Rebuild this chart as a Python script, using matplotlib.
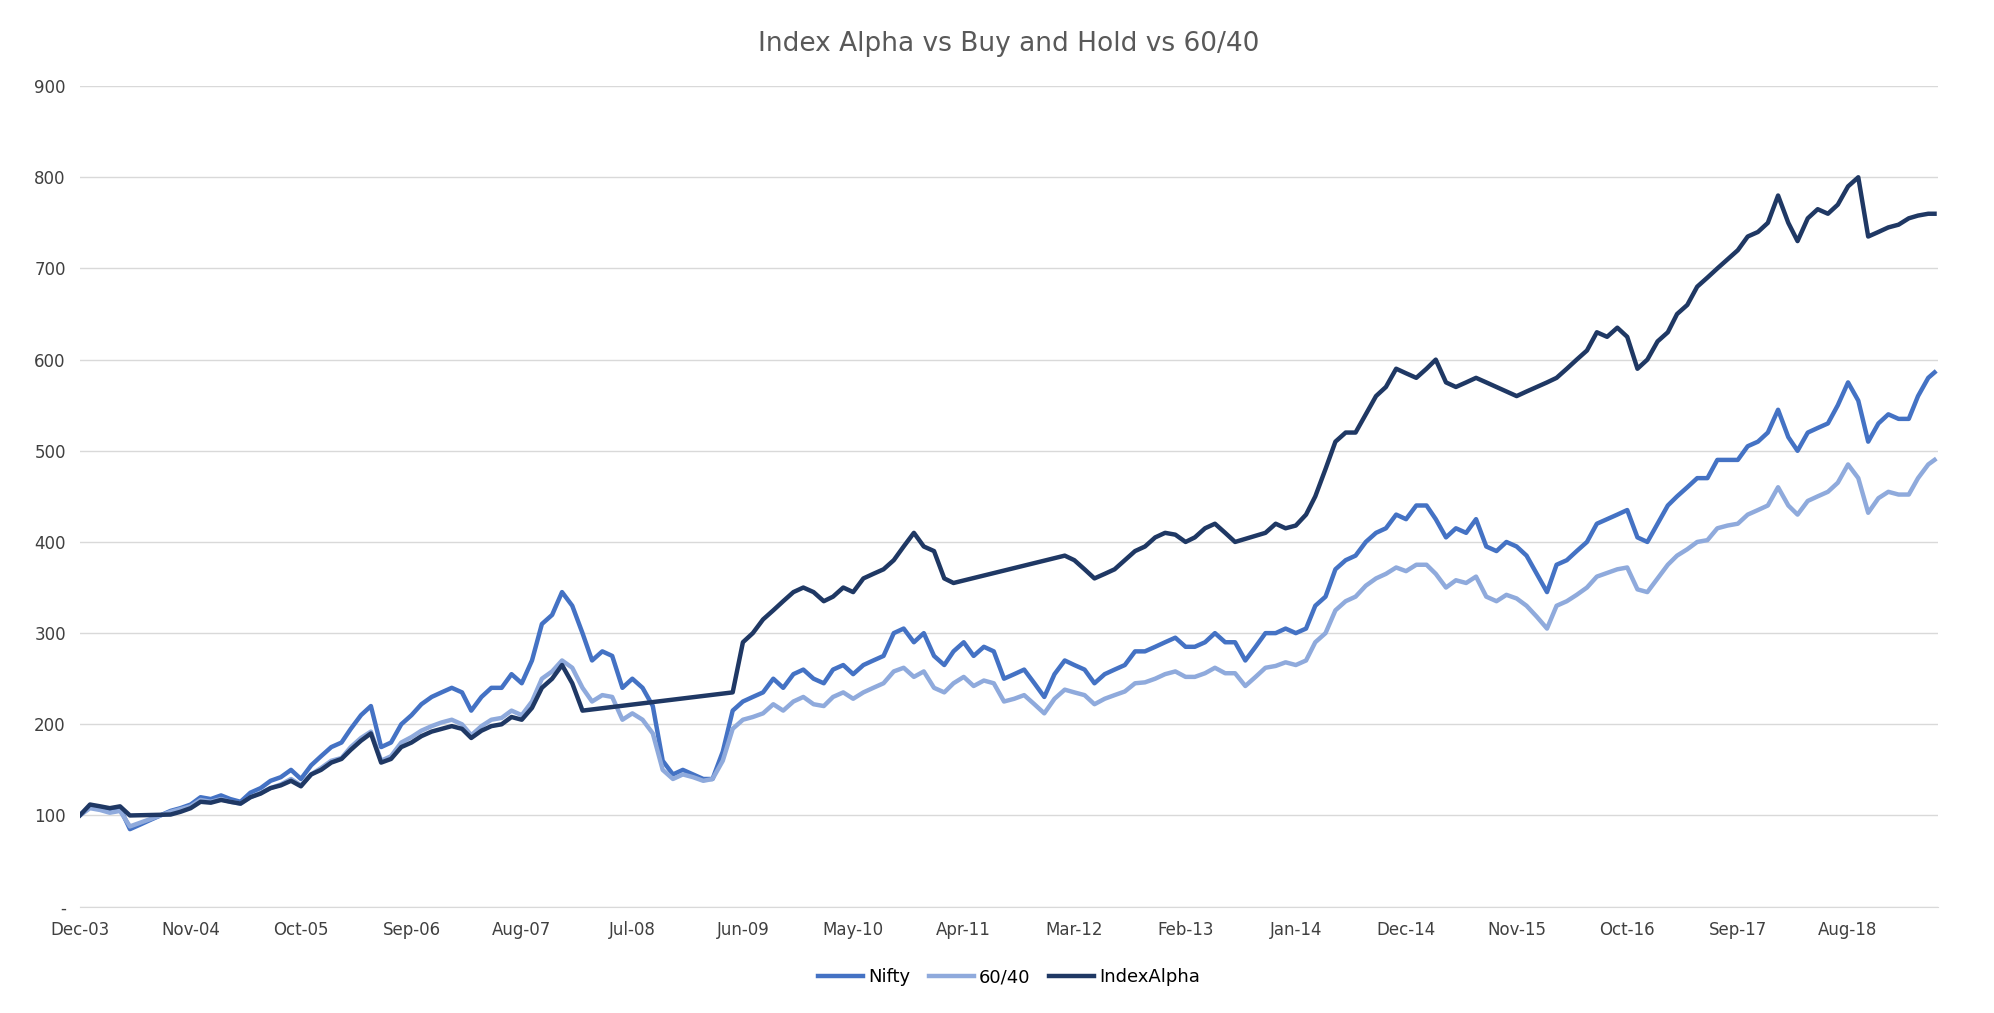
import matplotlib
matplotlib.use("Agg")
import matplotlib.pyplot as plt
import pandas as pd

start = pd.Timestamp("2003-12-01")
nifty = [100,110,108,105,108,85,90,95,100,105,108,112,120,118,122,118,115,125,130,138,142,150,140,155,165,175,180,195,210,220,175,180,200,210,222,230,235,240,235,215,230,240,240,255,245,270,310,320,345,330,300,270,280,275,240,250,240,220,160,145,150,145,140,140,170,215,225,230,235,250,240,255,260,250,245,260,265,255,265,270,275,300,305,290,300,275,265,280,290,275,285,280,250,255,260,245,230,255,270,265,260,245,255,260,265,280,280,285,290,295,285,285,290,300,290,290,270,285,300,300,305,300,305,330,340,370,380,385,400,410,415,430,425,440,440,425,405,415,410,425,395,390,400,395,385,365,345,375,380,390,400,420,425,430,435,405,400,420,440,450,460,470,470,490,490,490,505,510,520,545,515,500,520,525,530,550,575,555,510,530,540,535,535,560,580,586]
sixty40 = [100,108,106,103,105,88,92,96,100,104,107,110,117,115,118,115,113,120,125,130,134,140,133,145,152,160,163,175,185,192,160,165,180,186,193,198,202,205,200,188,198,205,207,215,210,225,250,258,270,262,240,225,232,230,205,212,205,190,150,140,145,142,138,140,160,195,205,208,212,222,215,225,230,222,220,230,235,228,235,240,245,258,262,252,258,240,235,245,252,242,248,245,225,228,232,222,212,228,238,235,232,222,228,232,236,245,246,250,255,258,252,252,256,262,256,256,242,252,262,264,268,265,270,290,300,325,335,340,352,360,365,372,368,375,375,365,350,358,355,362,340,335,342,338,330,318,305,330,335,342,350,362,366,370,372,348,345,360,375,385,392,400,402,415,418,420,430,435,440,460,440,430,445,450,455,465,485,470,432,448,455,452,452,470,485,490]
alpha_dates = ["2003-12","2004-01","2004-02","2004-03","2004-04","2004-05","2004-09","2004-10","2004-11","2004-12","2005-01","2005-02","2005-03","2005-04","2005-05","2005-06","2005-07","2005-08","2005-09","2005-10","2005-11","2005-12","2006-01","2006-02","2006-03","2006-04","2006-05","2006-06","2006-07","2006-08","2006-09","2006-10","2006-11","2006-12","2007-01","2007-02","2007-03","2007-04","2007-05","2007-06","2007-07","2007-08","2007-09","2007-10","2007-11","2007-12","2008-01","2008-02","2009-05","2009-06","2009-07","2009-08","2009-09","2009-10","2009-11","2009-12","2010-01","2010-02","2010-03","2010-04","2010-05","2010-06","2010-07","2010-08","2010-09","2010-10","2010-11","2010-12","2011-01","2011-02","2011-03","2012-02","2012-03","2012-04","2012-05","2012-06","2012-07","2012-08","2012-09","2012-10","2012-11","2012-12","2013-01","2013-02","2013-03","2013-04","2013-05","2013-06","2013-07","2013-10","2013-11","2013-12","2014-01","2014-02","2014-03","2014-04","2014-05","2014-06","2014-07","2014-08","2014-09","2014-10","2014-11","2014-12","2015-01","2015-02","2015-03","2015-04","2015-05","2015-06","2015-07","2015-08","2015-11","2015-12","2016-01","2016-02","2016-03","2016-04","2016-05","2016-06","2016-07","2016-08","2016-09","2016-10","2016-11","2016-12","2017-01","2017-02","2017-03","2017-04","2017-05","2017-06","2017-07","2017-08","2017-09","2017-10","2017-11","2017-12","2018-01","2018-02","2018-03","2018-04","2018-05","2018-06","2018-07","2018-08","2018-09","2018-10","2018-11","2018-12","2019-01","2019-02","2019-03","2019-04","2019-04-20"]
alpha = [100,112,110,108,110,100,101,104,108,115,114,117,115,113,120,124,130,133,138,132,145,150,158,162,172,182,190,158,162,175,180,187,192,195,198,195,185,193,198,200,208,205,218,240,250,265,245,215,235,290,300,315,325,335,345,350,345,335,340,350,345,360,365,370,380,395,410,395,390,360,355,385,380,370,360,365,370,380,390,395,405,410,408,400,405,415,420,410,400,410,420,415,418,430,450,480,510,520,520,540,560,570,590,585,580,590,600,575,570,575,580,575,560,565,570,575,580,590,600,610,630,625,635,625,590,600,620,630,650,660,680,690,700,710,720,735,740,750,780,750,730,755,765,760,770,790,800,735,740,745,748,755,758,760,760]

ticks = ["Dec-03","Nov-04","Oct-05","Sep-06","Aug-07","Jul-08","Jun-09","May-10","Apr-11","Mar-12","Feb-13","Jan-14","Dec-14","Nov-15","Oct-16","Sep-17","Aug-18"]

dates = pd.date_range(start, periods=len(nifty)-1, freq="MS").append(pd.DatetimeIndex(["2019-04-20"]))
adates = pd.to_datetime(alpha_dates, format="mixed")

fig, ax = plt.subplots(figsize=(19.94, 10.13), dpi=100)
fig.subplots_adjust(left=0.04, right=0.972, top=0.915, bottom=0.105)
ax.plot(dates, nifty, color="#4472C4", lw=3.2, label="Nifty")
ax.plot(dates, sixty40, color="#8FAADC", lw=3.2, label="60/40")
ax.plot(adates, alpha, color="#1F3864", lw=3.2, label="IndexAlpha")

tdates = pd.to_datetime(ticks, format="%b-%y")
ax.set_xticks(tdates)
ax.set_xticklabels(ticks, fontsize=12, color="#404040")
ax.set_xlim(start, pd.Timestamp("2019-05-01"))
ax.set_ylim(0, 900)
ax.set_yticks(range(0, 1000, 100))
ax.set_yticklabels(["-"] + [str(v) for v in range(100, 1000, 100)], fontsize=12, color="#404040")
ax.grid(axis="y", color="#D9D9D9", lw=1)
ax.set_axisbelow(True)
for s in ["top", "right", "left"]:
    ax.spines[s].set_visible(False)
ax.spines["bottom"].set_color("#D9D9D9")
ax.tick_params(length=0, pad=10)
ax.set_title("Index Alpha vs Buy and Hold vs 60/40", fontsize=19, color="#595959", pad=25)
ax.legend(loc="upper center", bbox_to_anchor=(0.5, -0.055), ncol=3, frameon=False,
          fontsize=13, handlelength=2.5, columnspacing=1.0, handletextpad=0.3)
fig.savefig("out.png")
